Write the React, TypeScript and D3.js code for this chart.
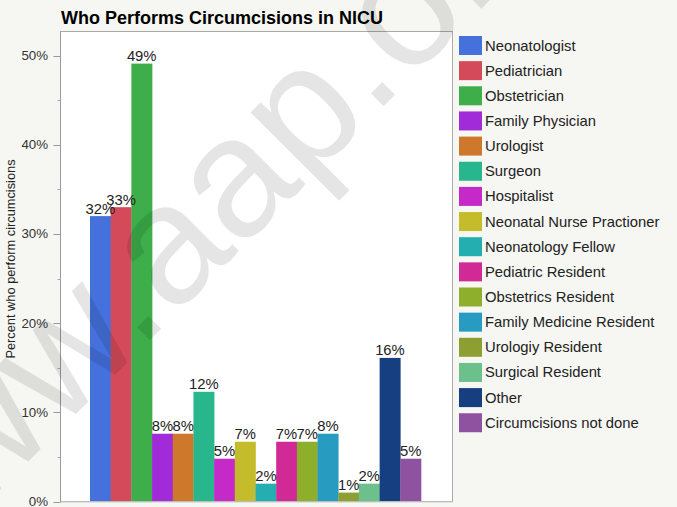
import React from "react";
import * as d3 from "d3";

const categories = [
  "Neonatologist",
  "Pediatrician",
  "Obstetrician",
  "Family Physician",
  "Urologist",
  "Surgeon",
  "Hospitalist",
  "Neonatal Nurse Practioner",
  "Neonatology Fellow",
  "Pediatric Resident",
  "Obstetrics Resident",
  "Family Medicine Resident",
  "Urologiy Resident",
  "Surgical Resident",
  "Other",
  "Circumcisions not done",
];
const values = [32.0, 33.0, 49.1, 7.6, 7.6, 12.3, 4.8, 6.7, 2.0, 6.7, 6.7, 7.6, 1.0, 2.0, 16.1, 4.8];
const colors = [
  "#4571dc", "#d44a5a", "#3dae4a", "#a12ad9", "#cd782b", "#28b68c", "#c52ac9", "#c4bc2b",
  "#25aeb0", "#d12a97", "#8daf2b", "#279bc0", "#8e9f32", "#6bc08c", "#163f82", "#8f52a0",
];
const majorTicks = [0, 10, 20, 30, 40, 50];
const minorTicks = [5, 15, 25, 35, 45];

const W = 677;
const H = 507;
const FONT = "'Liberation Sans', Arial, Helvetica, sans-serif";

export default function App() {
  const left = 60.5, right = 452.5, top = 31.5, bottom = 501.5;
  const x = d3.scaleBand<string>().domain(categories).range([left + 29.5, right - 31.5]).padding(0);
  const y = d3.scaleLinear().domain([0, 52.7]).range([bottom, top]);
  const legendY = d3.scaleBand<string>().domain(categories).range([36, 36 + 25.15 * 16]);

  return (
    <svg width={W} height={H} style={{ position: "absolute", left: 0, top: 0 }} fontFamily={FONT}>
      <rect x={0} y={0} width={W} height={H} fill="#f6f6f2" />
      <text x={61} y={24} fontSize={18} fontWeight="bold" fill="#000">
        Who Performs Circumcisions in NICU
      </text>
      <rect x={left} y={top} width={right - left} height={bottom - top} fill="#fff" />
      {categories.map((c, i) => (
        <rect key={c} x={x(c)} y={y(values[i])} width={x.bandwidth() + 0.3} height={bottom - y(values[i])} fill={colors[i]} />
      ))}
      {categories.map((c, i) => (
        <text key={c} x={(x(c) as number) + x.bandwidth() / 2} y={y(values[i]) - 2.5} fontSize={14.8} textAnchor="middle" fill="#222">
          {Math.round(values[i])}%
        </text>
      ))}
      <rect x={left} y={top} width={right - left} height={bottom - top} fill="none" stroke="#aaa" strokeWidth={1} />
      <line x1={left} x2={right} y1={bottom + 0.5} y2={bottom + 0.5} stroke="#ccc" />
      <line x1={left} x2={left} y1={top} y2={bottom} stroke="#999" />
      {majorTicks.map((t) => (
        <g key={t}>
          <line x1={left - 7} x2={left} y1={Math.round(y(t)) + 0.5} y2={Math.round(y(t)) + 0.5} stroke="#999" />
          <text x={48} y={y(t) + 4.5} fontSize={13.3} textAnchor="end" fill="#333">
            {t}%
          </text>
        </g>
      ))}
      {minorTicks.map((t) => (
        <line key={t} x1={left - 3} x2={left} y1={Math.round(y(t)) + 0.5} y2={Math.round(y(t)) + 0.5} stroke="#aaa" />
      ))}
      <text transform={`translate(15,259) rotate(-90)`} fontSize={12.8} textAnchor="middle" fill="#222">
        Percent who perform circumcisions
      </text>
      {categories.map((c, i) => (
        <g key={c}>
          <rect x={459} y={legendY(c)} width={23} height={19} fill={colors[i]} />
          <text x={485} y={(legendY(c) as number) + 14.5} fontSize={14.8} fill="#222">
            {c}
          </text>
        </g>
      ))}
      <text
        transform="translate(-115,605) rotate(-45)"
        fontSize={170}
        fill="#000"
        fillOpacity={0.1}
        style={{ pointerEvents: "none" }}
      >
        www.aap.org
      </text>
    </svg>
  );
}
